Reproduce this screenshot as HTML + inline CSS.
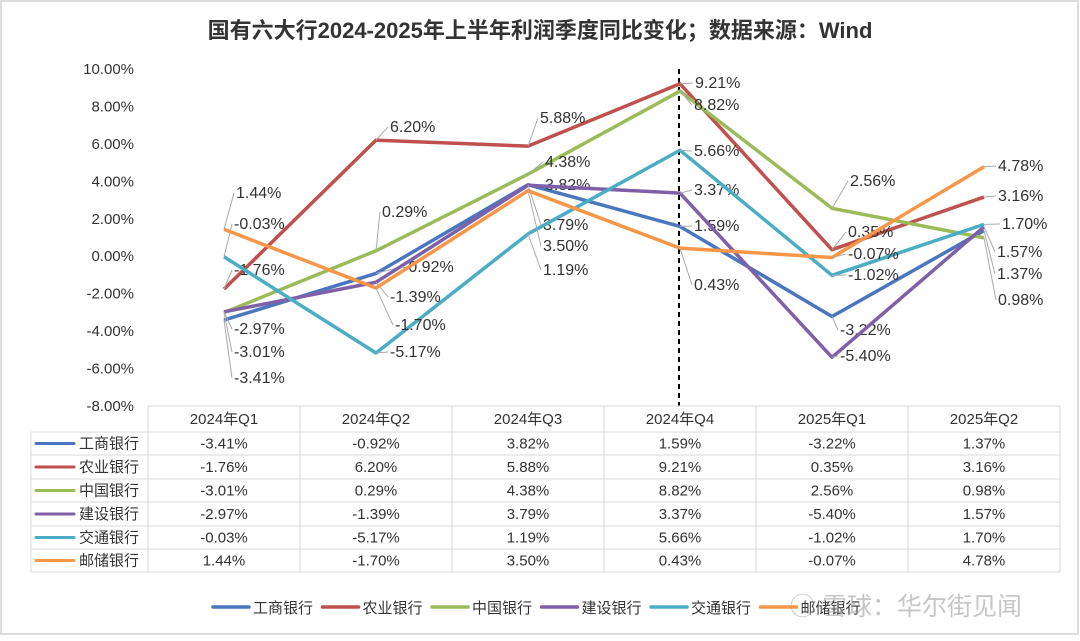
<!DOCTYPE html>
<html><head><meta charset="utf-8"><style>
body{margin:0;background:#fff;}
svg text{font-family:"Liberation Sans","Noto Sans CJK SC",sans-serif;}
</style></head><body>
<svg id="c" width="1080" height="636" viewBox="0 0 1080 636" xmlns="http://www.w3.org/2000/svg">
<rect x="1" y="1" width="1077" height="633" fill="#fff" stroke="#ddd" stroke-width="2"/>
<text x="540" y="38" text-anchor="middle" font-size="22" font-weight="bold" fill="#333">国有六大行2024-2025年上半年利润季度同比变化；数据来源：Wind</text>
<g id="axis"></g><g id="plot"></g><g id="tbl"></g><g id="leg"></g>
<text x="790" y="615" font-size="25" fill="#999" opacity="0.55">◯ 雪球：华尔街见闻</text>
</svg>
<script>
const categories=["2024年Q1","2024年Q2","2024年Q3","2024年Q4","2025年Q1","2025年Q2"];
const banks=["工商银行","农业银行","中国银行","建设银行","交通银行","邮储银行"];
const icbc=[-3.41,-0.92,3.82,1.59,-3.22,1.37];
const abc=[-1.76,6.20,5.88,9.21,0.35,3.16];
const boc=[-3.01,0.29,4.38,8.82,2.56,0.98];
const ccb=[-2.97,-1.39,3.79,3.37,-5.40,1.57];
const bocom=[-0.03,-5.17,1.19,5.66,-1.02,1.70];
const psbc=[1.44,-1.70,3.50,0.43,-0.07,4.78];
const yTicks=[10,8,6,4,2,0,-2,-4,-6,-8];
const series=[icbc,abc,boc,ccb,bocom,psbc];
const colors=["#4a76c0","#c0504d","#9bbb59","#7f60a8","#4bacc6","#f79646"];
const labelPos=[
[[234,378],[403,267],[545,185],[694,226],[840,330],[997,274]],
[[234,270],[390,127],[540,118],[695,83],[848,232],[998,196]],
[[234,352],[382,212],[545,162],[694,105],[850,181],[998,300]],
[[234,329],[390,297],[543,225],[694,190],[840,356],[997,252]],
[[234,224],[390,352],[543,270],[694,151],[848,275],[1002,224]],
[[236,193],[395,325],[543,246],[694,285],[848,254],[998,166]]];
const NS="http://www.w3.org/2000/svg";
const X0=148,CW=152,Y10=69,Y8=406;
const xs=i=>X0+CW*(i+0.5);
const ys=v=>Y10+(10-v)*(Y8-Y10)/18;
function mk(p,t,a){const e=document.createElementNS(NS,t);for(const k in a)e.setAttribute(k,a[k]);p.appendChild(e);return e;}
const fmt=v=>v.toFixed(2)+"%";
const ax=document.getElementById("axis");
yTicks.forEach(t=>{const e=mk(ax,"text",{x:134,y:ys(t)+5,"text-anchor":"end","font-size":15,fill:"#333"});e.textContent=t.toFixed(2)+"%";

});
const dl=mk(ax,"line",{x1:679,x2:679,y1:69,y2:406,stroke:"#000","stroke-width":2,"stroke-dasharray":"5,4"});


const pl=document.getElementById("plot");
series.forEach((s,k)=>{
const p=mk(pl,"polyline",{points:s.map((v,i)=>xs(i)+","+ys(v)).join(" "),fill:"none",stroke:colors[k],"stroke-width":3.5,"stroke-linejoin":"round"});


s.forEach((v,i)=>{const [lx,ly]=labelPos[k][i];
const ln=mk(pl,"line",{x1:xs(i),y1:ys(v),x2:lx-2,y2:ly,stroke:"#aaa","stroke-width":1});


const t=mk(pl,"text",{x:lx,y:ly+5,"font-size":16,fill:"#333"});t.textContent=fmt(v);

});
});
const tb=document.getElementById("tbl");
const rows=[406,432,455,479,502,526,549,572];
const g="#d9d9d9";
mk(tb,"line",{x1:148,x2:1060,y1:406,y2:406,stroke:g});
for(let r=1;r<rows.length;r++)mk(tb,"line",{x1:31,x2:1060,y1:rows[r],y2:rows[r],stroke:g});
mk(tb,"line",{x1:31,x2:31,y1:432,y2:572,stroke:g});
for(let c=0;c<=6;c++)mk(tb,"line",{x1:X0+CW*c,x2:X0+CW*c,y1:406,y2:572,stroke:g});
categories.forEach((c,i)=>{const t=mk(tb,"text",{x:xs(i),y:424,"text-anchor":"middle","font-size":15,fill:"#333"});t.textContent=c;

});
series.forEach((s,k)=>{const cy=(rows[k+1]+rows[k+2])/2;
mk(tb,"line",{x1:36,x2:74,y1:cy,y2:cy,stroke:colors[k],"stroke-width":3,"stroke-linecap":"round"});
const n=mk(tb,"text",{x:79,y:cy+5,"font-size":15,fill:"#333"});n.textContent=banks[k];


s.forEach((v,i)=>{const t=mk(tb,"text",{x:xs(i),y:cy+5,"text-anchor":"middle","font-size":15,fill:"#333"});t.textContent=fmt(v);

});});
const lg=document.getElementById("leg");
banks.forEach((b,k)=>{const x=213+k*109.5;
const l=mk(lg,"line",{x1:x,x2:x+36,y1:607,y2:607,stroke:colors[k],"stroke-width":3.5,"stroke-linecap":"round"});


const t=mk(lg,"text",{x:x+40,y:613,"font-size":15,fill:"#333"});t.textContent=b;

});
</script>
</body></html>
